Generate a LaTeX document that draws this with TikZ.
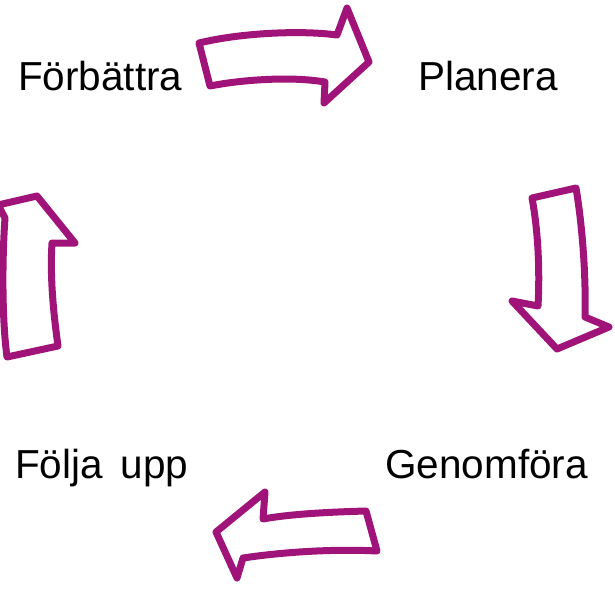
\documentclass[tikz,border=0pt]{standalone}
\usepackage{fontspec}
\setmainfont{Liberation Sans}
\definecolor{arrowpurple}{RGB}{160,20,122}
\begin{document}
\begin{tikzpicture}[x=1pt,y=-1pt,
  bigarrow/.style={draw=arrowpurple,fill=white,line width=7pt,line join=round},
  label/.style={font=\fontsize{40.5}{44}\selectfont,inner sep=0pt,anchor=base west}]
\useasboundingbox (0,0) rectangle (615,590);
% top arrow
\draw[bigarrow] (199,43) .. controls (240,33) and (300,30) .. (337,35) -- (347,8) -- (369,62) -- (324,103) -- (325,82) .. controls (290,76) and (240,80) .. (210,86) -- cycle;
% right arrow
\draw[bigarrow] (532,198) -- (576,188) .. controls (583,230) and (586,280) .. (585,317) -- (609,327) -- (557,349) -- (512,301) -- (538,306) .. controls (540,270) and (538,230) .. (532,198) -- cycle;
% bottom arrow
\draw[bigarrow] (366,511) .. controls (330,512) and (290,514) .. (263,519) -- (265,492) -- (216,532) -- (237,578) -- (243,558) .. controls (290,551) and (340,549) .. (377,551) -- cycle;
% left arrow
\draw[bigarrow] (7,357) -- (58,346) .. controls (53,310) and (50,275) .. (52,243) -- (75,243) -- (37,196) -- (-2,205) -- (5,218) .. controls (2,260) and (2,320) .. (7,357) -- cycle;
% labels
\node[label] (forb) at (18,90) {Förbättra};
\node[label] (plan) at (418,90) {Planera};
\node[label] (gen) at (385,478) {Genomföra};
\node[label] (folj) at (15,478) {Följa\, upp};
\end{tikzpicture}
\end{document}
